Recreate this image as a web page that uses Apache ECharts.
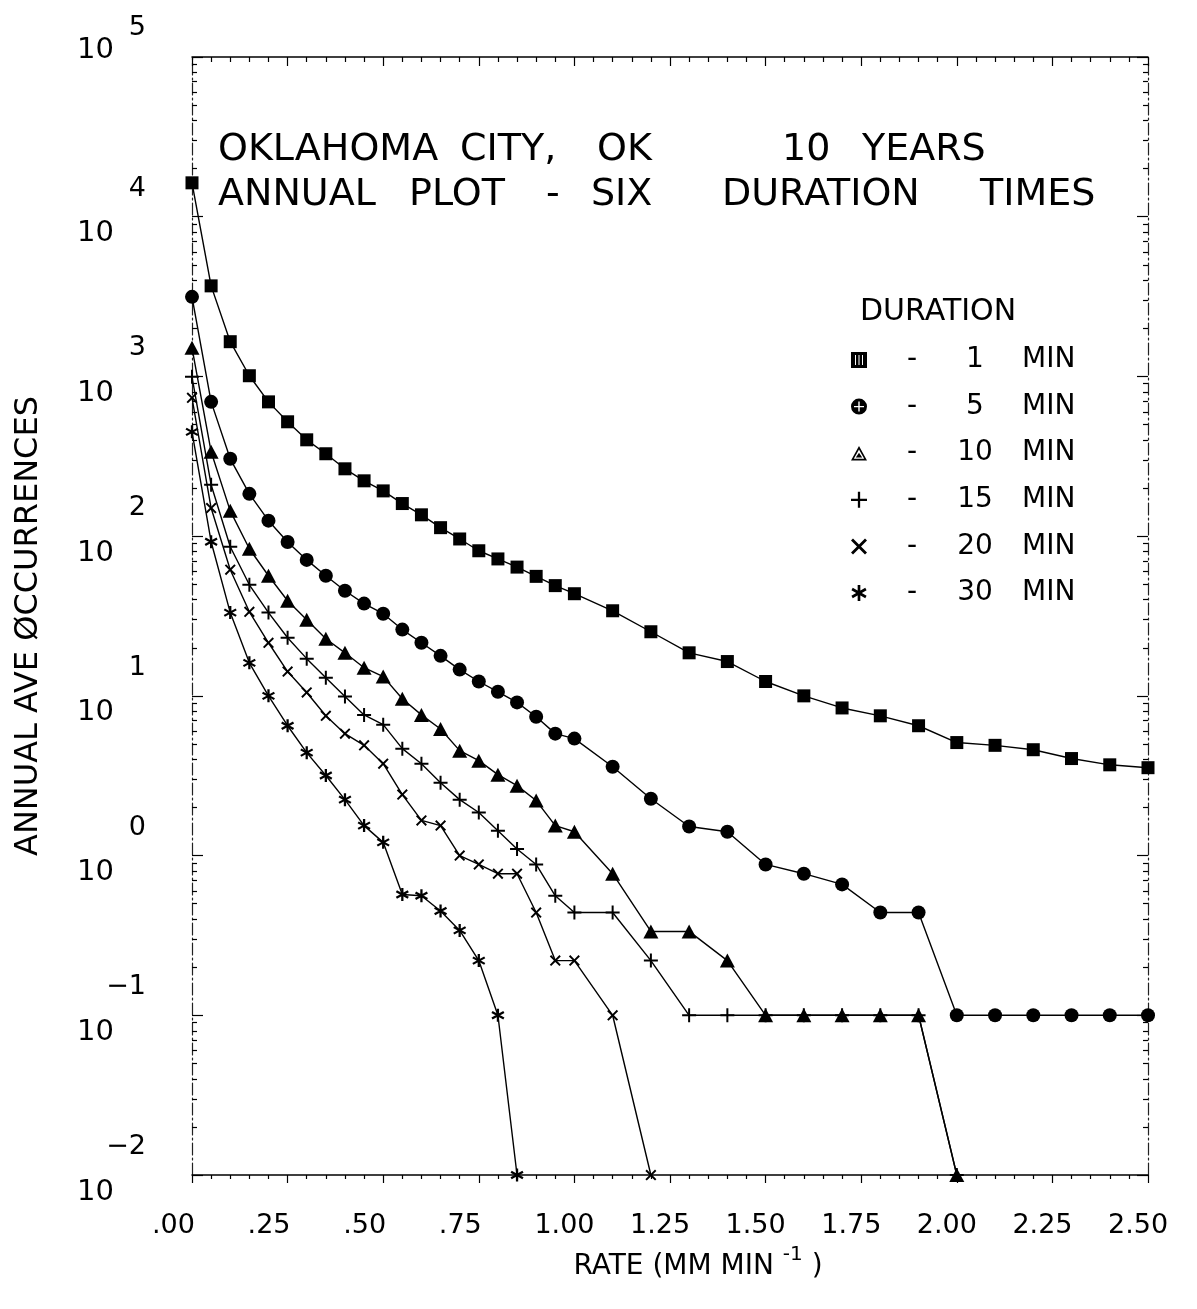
<!DOCTYPE html>
<html>
<head>
<meta charset="utf-8">
<script src="https://cdn.jsdelivr.net/npm/echarts@6/dist/echarts.min.js"></script>
<style>
  html, body { margin: 0; padding: 0; background: #fff; }
  #chart { width: 1197px; height: 1309px; }
</style>
</head>
<body>
<div id="chart"></div>
<script>
// Rainfall rate thresholds (mm/min)
const rates = [0.00, 0.05, 0.10, 0.15, 0.20, 0.25, 0.30, 0.35, 0.40, 0.45,
               0.50, 0.55, 0.60, 0.65, 0.70, 0.75, 0.80, 0.85, 0.90, 0.95,
               1.00, 1.10, 1.20, 1.30, 1.40, 1.50, 1.60, 1.70, 1.80, 1.90,
               2.00, 2.10, 2.20, 2.30, 2.40, 2.50];

// Annual average occurrences per duration; 0.01 marks "none" (axis floor)
const occ1  = [16300, 3690, 1650, 1010, 693, 520, 401, 328, 264, 222,
               192, 160, 136, 113, 96, 81, 72, 64, 56, 49,
               43.6, 34.1, 25.2, 18.6, 16.4, 12.3, 10.0, 8.4, 7.5, 6.5,
               5.1, 4.9, 4.6, 4.05, 3.7, 3.55];
const occ5  = [3150, 693, 305, 184, 125, 92, 71, 56.5, 45.5, 37.8,
               32.7, 26, 21.5, 17.8, 14.6, 12.3, 10.6, 9.1, 7.4, 5.8,
               5.4, 3.6, 2.27, 1.52, 1.41, 0.88, 0.77, 0.66, 0.44, 0.44,
               0.1, 0.1, 0.1, 0.1, 0.1, 0.1];
const occ10 = [1510, 338, 144, 83.4, 56.5, 39.4, 30, 22.8, 18.6, 15,
               13.2, 9.6, 7.6, 6.2, 4.54, 3.93, 3.21, 2.74, 2.21, 1.54,
               1.41, 0.77, 0.335, 0.335, 0.22, 0.1, 0.1, 0.1, 0.1, 0.1,
               0.01];
const occ15 = [994, 210, 85.8, 49.6, 33.2, 23.1, 17.1, 13, 9.9, 7.6,
               6.6, 4.67, 3.76, 2.86, 2.24, 1.86, 1.43, 1.1, 0.88, 0.56,
               0.44, 0.44, 0.22, 0.1, 0.1, 0.1, 0.1, 0.1, 0.1, 0.1,
               0.01];
const occ20 = [735, 150, 61.6, 33.6, 21.5, 14.2, 10.5, 7.5, 5.8, 4.9,
               3.76, 2.41, 1.66, 1.54, 1.0, 0.88, 0.77, 0.77, 0.44, 0.22,
               0.22, 0.1, 0.01];
const occ30 = [450, 92.3, 33.2, 16.1, 10.0, 6.5, 4.41, 3.17, 2.24, 1.54,
               1.21, 0.57, 0.56, 0.45, 0.34, 0.22, 0.1, 0.01];

const durations = ['1', '5', '10', '15', '20', '30'];
const xTickLabels = ['.00', '.25', '.50', '.75', '1.00', '1.25', '1.50', '1.75', '2.00', '2.25', '2.50'];
const yPowers = [-2, -1, 0, 1, 2, 3, 4, 5];

const FONT = "'DejaVu Sans', 'Liberation Sans', sans-serif";

// decade ticks and the 2..9 minor ticks of the log axis
const yMajor = yPowers.map(p => Math.pow(10, p));
const yMinor = [];
for (let p = yPowers[0]; p < yPowers[yPowers.length - 1]; p++) {
  for (let k = 2; k <= 9; k++) yMinor.push(k * Math.pow(10, p));
}

// marker shapes
const plusPath = 'path://M6,0H8V6H14V8H8V14H6V8H0V6H6Z';
const crossPath = 'path://M0,1.5L1.5,0L6,4.5L10.5,0L12,1.5L7.5,6L12,10.5L10.5,12L6,7.5L1.5,12L0,10.5L4.5,6Z';
const starPath = 'path://M8.5,1H11.5V19H8.5Z M2.96,4.2L18.54,13.2L17.04,15.8L1.46,6.8Z M17.04,4.2L18.54,6.8L2.96,15.8L1.46,13.2Z';
// legend keys with their hatched look
const squareKey = 'path://M0,0H16V16H0Z M4,3V13H5V3Z M7.5,3V13H8.5V3Z M11,3V13H12V3Z';
const circleKey = 'path://M0,8A8,8 0 1 1 16,8A8,8 0 1 1 0,8Z M3,7.3V8.7H13V7.3Z M7.3,3V7.3H8.7V3Z M7.3,8.7V13H8.7V8.7Z';
const triangleKey = 'path://M10,0L20,18L0,18Z M10,4.5L3.5,16L16.5,16Z M10,8.5L14,14.5L6,14.5Z';

const seriesDefs = [
  { values: occ1,  symbol: 'rect',     size: 13,       key: squareKey },
  { values: occ5,  symbol: 'circle',   size: 14,       key: circleKey },
  { values: occ10, symbol: 'triangle', size: [15, 14], key: triangleKey },
  { values: occ15, symbol: plusPath,   size: 14,       key: plusPath },
  { values: occ20, symbol: crossPath,  size: 11,       key: crossPath },
  { values: occ30, symbol: starPath,   size: 13,       key: starPath }
];

const names = durations.map(d => d + ' MIN');

const series = seriesDefs.map((s, i) => ({
  name: names[i],
  type: 'line',
  xAxisIndex: 0,
  yAxisIndex: 0,
  data: s.values.map((v, j) => [rates[j], v]),
  symbol: s.symbol,
  symbolSize: s.size,
  showAllSymbol: true,
  clip: false,
  lineStyle: { color: '#000', width: 1.4 },
  itemStyle: { color: '#000', borderWidth: 0 },
  emphasis: { disabled: true },
  z: 3
}));

const tickLine = { color: '#000', width: 1.2 };
const sideLine = { show: true, lineStyle: { color: '#222', width: 1.2, type: [12, 3, 2, 3] } };
const solidLine = { show: true, lineStyle: { color: '#000', width: 1.5 } };

function yLabel(v) {
  const i = yMajor.findIndex(m => Math.abs(Math.log10(m) - Math.log10(v)) < 1e-6);
  const p = yPowers[i];
  const txt = String(p).replace('-', '\u2212');
  if (i === yPowers.length - 1) return '{et|' + txt + '}\n{bt|10}\n{s| }';
  return '{e|' + txt + '}\n{b|10}';
}

const titleWord = { fontFamily: FONT, fontSize: 38, fontWeight: 'normal', color: '#000', lineHeight: 40, align: 'left' };
function w(width) { return Object.assign({}, titleWord, { width: width }); }

const option = {
  backgroundColor: '#fff',
  animation: false,
  textStyle: { fontFamily: FONT, color: '#000' },
  grid: { left: 192, right: 49, top: 57, bottom: 134, outerBoundsMode: 'none' },
  title: [
    {
      text: '{a|OKLAHOMA}{b|CITY,}{c|OK}{d|10}{e|YEARS}',
      left: 218, top: 130, padding: 0,
      textStyle: { rich: { a: w(242), b: w(137), c: w(185), d: w(80), e: titleWord } }
    },
    {
      text: '{a|ANNUAL}{b|PLOT}{c|-}{d|SIX}{e|DURATION}{f|TIMES}',
      left: 218, top: 175, padding: 0,
      textStyle: { rich: { a: w(191), b: w(137), c: w(45), d: w(131), e: w(258), f: titleWord } }
    },
    {
      text: 'DURATION',
      left: 860, top: 297, padding: 0,
      textStyle: { fontFamily: FONT, fontSize: 30, fontWeight: 'normal', color: '#000', lineHeight: 30 }
    }
  ],
  legend: {
    orient: 'vertical',
    left: 851, top: 345,
    padding: 0,
    itemWidth: 16, itemHeight: 16,
    itemGap: 16.6,
    selectedMode: false,
    data: names.map((n, i) => ({ name: n, icon: seriesDefs[i].key })),
    formatter: function (name) {
      const d = durations[names.indexOf(name)];
      return '{d|-}{n|' + d + '}{m|MIN}';
    },
    textStyle: {
      fontFamily: FONT, fontSize: 28, color: '#000', lineHeight: 30,
      rich: {
        d: { width: 80, align: 'center', fontSize: 28, fontFamily: FONT, lineHeight: 30 },
        n: { width: 46, align: 'right', fontSize: 28, fontFamily: FONT, lineHeight: 30 },
        m: { padding: [0, 0, 0, 24], fontSize: 28, fontFamily: FONT, lineHeight: 30 }
      }
    }
  },
  xAxis: [
    {
      type: 'value', position: 'bottom', min: 0, max: 2.5, interval: 0.25,
      axisLine: solidLine,
      axisTick: { show: true, inside: false, length: 8, lineStyle: tickLine },
      minorTick: { show: true, splitNumber: 5, length: 4, lineStyle: tickLine },
      splitLine: { show: false }, minorSplitLine: { show: false },
      axisLabel: {
        margin: 36,
        hideOverlap: false,
        formatter: v => '{t|' + xTickLabels[Math.round(v / 0.25)] + '}',
        rich: { t: { width: 80, align: 'left', fontSize: 27, lineHeight: 30, fontFamily: FONT, color: '#000' } }
      },
      name: 'RATE (MM MIN {s|-1} )',
      nameLocation: 'middle',
      nameGap: 86,
      nameTextStyle: {
        padding: [0, 0, 0, 56],
        rich: {
          s: { fontSize: 20, fontFamily: FONT, verticalAlign: 'top', lineHeight: 44, color: '#000' }
        },
        fontSize: 28, fontFamily: FONT, color: '#000', lineHeight: 44, verticalAlign: 'bottom'
      }
    },
    {
      type: 'value', position: 'top', min: 0, max: 2.5, interval: 0.25,
      axisLine: solidLine,
      axisTick: { show: true, inside: true, length: 9, lineStyle: tickLine },
      minorTick: { show: true, splitNumber: 5, length: 5, lineStyle: tickLine },
      splitLine: { show: false }, minorSplitLine: { show: false },
      axisLabel: { show: false }
    }
  ],
  yAxis: [
    {
      type: 'log', logBase: 10, min: 0.01, max: 100000, position: 'left',
      axisLine: sideLine,
      axisTick: { show: true, inside: true, length: 11, customValues: yMajor, lineStyle: tickLine },
      splitLine: { show: false },
      axisLabel: {
        customValues: yMajor,
        margin: 46,
        hideOverlap: false,
        formatter: yLabel,
        rich: {
          e:  { fontSize: 27, lineHeight: 34, fontFamily: FONT, color: '#000' },
          b:  { fontSize: 29, lineHeight: 56, fontFamily: FONT, color: '#000', padding: [0, 32, 0, 0] },
          et: { fontSize: 27, lineHeight: 20, fontFamily: FONT, color: '#000' },
          bt: { fontSize: 29, lineHeight: 24, fontFamily: FONT, color: '#000', padding: [0, 32, 0, 0] },
          s:  { fontSize: 10, lineHeight: 34 }
        }
      },
      name: 'ANNUAL AVE \u00D8CCURRENCES',
      nameLocation: 'middle',
      nameRotate: 90,
      nameGap: 146,
      nameTextStyle: { fontSize: 32, fontFamily: FONT, color: '#000', lineHeight: 34, padding: [0, 20, 0, 0] }
    },
    {
      type: 'log', logBase: 10, min: 0.01, max: 100000, position: 'left',
      axisLine: { show: false },
      axisTick: { show: true, inside: true, length: 5, customValues: yMinor, lineStyle: tickLine },
      splitLine: { show: false },
      axisLabel: { show: false }
    },
    {
      type: 'log', logBase: 10, min: 0.01, max: 100000, position: 'right',
      axisLine: sideLine,
      axisTick: { show: true, inside: true, length: 11, customValues: yMajor, lineStyle: tickLine },
      splitLine: { show: false },
      axisLabel: { show: false }
    },
    {
      type: 'log', logBase: 10, min: 0.01, max: 100000, position: 'right',
      axisLine: { show: false },
      axisTick: { show: true, inside: true, length: 5, customValues: yMinor, lineStyle: tickLine },
      splitLine: { show: false },
      axisLabel: { show: false }
    }
  ],
  series: series
};

const chart = echarts.init(document.getElementById('chart'), null, { renderer: 'canvas' });
chart.setOption(option);
</script>
</body>
</html>
